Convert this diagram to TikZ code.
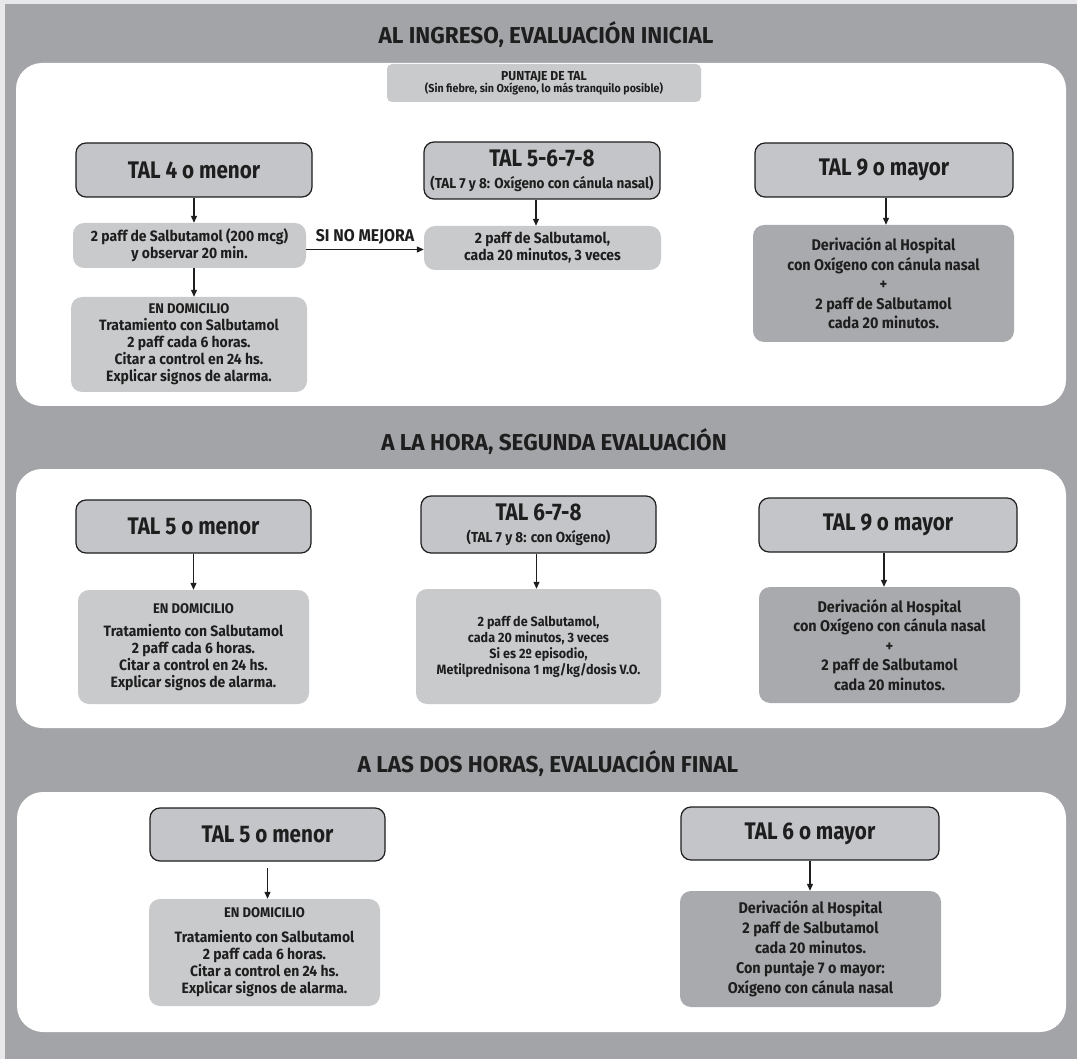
\documentclass[tikz,border=0pt]{standalone}
\usepackage{fontspec}
\setmainfont{Fira Sans}[FakeStretch=0.93]
\newfontfamily\headfont{Fira Sans}[FakeStretch=0.86]
\newfontfamily\titlefont{Fira Sans}[FakeStretch=0.98]
\usetikzlibrary{arrows.meta,positioning}
\definecolor{frame}{HTML}{E8E8EA}
\definecolor{back}{HTML}{A3A4A8}
\definecolor{ink}{HTML}{1E1E1E}
\definecolor{headfill}{HTML}{C4C5C8}
\definecolor{lightfill}{HTML}{C9CACC}
\definecolor{darkfill}{HTML}{A9AAAD}
\newcommand{\subhead}[1]{{\rmfamily\fontsize{14.5}{16}\selectfont #1}}
\newcommand{\domhead}[1]{{\fontsize{14}{15}\selectfont #1}}
\tikzset{
  panel/.style={fill=white, rounded corners=26pt},
  headbox/.style={draw=ink, fill=headfill, rounded corners=10pt, line width=1.2pt,
                  align=center, text=ink, inner sep=0pt,
                  font=\headfont\bfseries\fontsize{24}{26}\selectfont},
  lightbox/.style={fill=lightfill, rounded corners=11pt, align=center, text=ink,
                   inner sep=0pt, font=\bfseries\fontsize{15}{17}\selectfont},
  darkbox/.style={lightbox, fill=darkfill, font=\bfseries\fontsize{15.5}{19.5}\selectfont},
  ar/.style={-{Triangle[length=7pt,width=6pt]}, line width=1.2pt, draw=ink},
  ttl/.style={font=\titlefont\bfseries\fontsize{23}{25}\selectfont, text=ink, inner sep=0pt},
  lbl/.style={font=\bfseries\fontsize{17}{18}\selectfont, text=ink, inner sep=0pt},
  sz/.style 2 args={minimum width=#1pt, minimum height=#2pt}
}

\begin{document}
\begin{tikzpicture}[x=1pt,y=-1pt]
  \fill[frame] (0,0) rectangle (1077,1059);
  \fill[back] (5,4) rectangle (1077,1059);
  \useasboundingbox (0,0) rectangle (1077,1059);

  % tres etapas
  \fill[panel] (16,63) rectangle (1066,406);
  \fill[panel] (16,469) rectangle (1066,728);
  \fill[panel] (17,792) rectangle (1066,1032);

  \node[ttl] (ttl1) at (546,35) {AL INGRESO, EVALUACIÓN INICIAL};
  \node[ttl] (ttl2) at (554,442) {A LA HORA, SEGUNDA EVALUACIÓN};
  \node[ttl] (ttl3) at (548,764) {A LAS DOS HORAS, EVALUACIÓN FINAL};

  % al ingreso
  \node[lightbox, sz={314}{38}, rounded corners=5pt, font=\bfseries\fontsize{13}{13}\selectfont] (tal) at (544,83)
    {PUNTAJE DE TAL\\[-1pt]{\fontsize{11.5}{12}\selectfont (Sin fiebre, sin Oxígeno, lo más tranquilo posible)}};
  \node[headbox, sz={236}{54}] (h1a) at (194,170) {TAL 4 o menor};
  \node[headbox, sz={236}{57}] (h1b) at (542,170.5)
    {TAL 5-6-7-8\\[-4pt]\subhead{(TAL 7 y 8: Oxígeno con cánula nasal)}};
  \node[headbox, sz={258}{54}] (h1c) at (884,170) {TAL 9 o mayor};
  \node[lightbox, sz={233}{45}] (b1a) at (189.5,245.5)
    {2 paff de Salbutamol (200 mcg)\\y observar 20 min.};
  \node[lightbox, sz={236}{95}] (d1a) at (189,344.5)
    {\domhead{EN DOMICILIO}\\Tratamiento con Salbutamol\\2 paff cada 6 horas.\\Citar a control en 24 hs.\\Explicar signos de alarma.};
  \node[lightbox, sz={237}{44}] (b1b) at (542.5,248)
    {2 paff de Salbutamol,\\cada 20 minutos, 3 veces};
  \node[darkbox, sz={261}{117}] (d1c) at (883.5,283.5)
    {Derivación al Hospital\\con Oxígeno con cánula nasal\\+\\2 paff de Salbutamol\\cada 20 minutos.};

  \draw[ar] (h1a.south) -- (h1a.south |- b1a.north);
  \draw[ar] (b1a.south -| h1a.south) -- (d1a.north -| h1a.south);
  \draw[ar] ([xshift=-6pt]h1b.south) -- ([xshift=-6pt]h1b.south |- b1b.north);
  \draw[ar] ([xshift=2pt]h1c.south) -- ([xshift=2pt]h1c.south |- d1c.north);
  \draw[ar] ([yshift=-4pt]b1a.east) -- ([yshift=-4pt]b1a.east -| b1b.west)
    node[lbl, midway, above=5pt] (nomej) {SI NO MEJORA};

  % a la hora
  \node[headbox, sz={235}{53}] (h2a) at (193.5,526.5) {TAL 5 o menor};
  \node[headbox, sz={235}{57}] (h2b) at (538.5,524.5)
    {TAL 6-7-8\\[-4pt]\subhead{(TAL 7 y 8: con Oxígeno)}};
  \node[headbox, sz={258}{54}] (h2c) at (888,525) {TAL 9 o mayor};
  \node[lightbox, sz={231}{114}] (d2a) at (193.5,647)
    {\domhead{EN DOMICILIO}\\[6pt]Tratamiento con Salbutamol\\2 paff cada 6 horas.\\Citar a control en 24 hs.\\Explicar signos de alarma.};
  \node[lightbox, sz={245}{115}, font=\bfseries\fontsize{13.5}{16}\selectfont] (b2b) at (538.5,646.5)
    {2 paff de Salbutamol,\\cada 20 minutos, 3 veces\\Si es 2º episodio,\\Metilprednisona 1 mg/kg/dosis V.O.};
  \node[darkbox, sz={261}{116}] (d2c) at (889.5,645)
    {Derivación al Hospital\\con Oxígeno con cánula nasal\\+\\2 paff de Salbutamol\\cada 20 minutos.};

  \draw[ar] (h2a.south) -- (h2a.south |- d2a.north);
  \draw[ar] ([xshift=-2pt]h2b.south) -- ([xshift=-2pt]h2b.south |- b2b.north);
  \draw[ar] ([xshift=-4pt]h2c.south) -- ([xshift=-4pt]h2c.south |- d2c.north);

  % a las dos horas
  \node[headbox, sz={235}{53}] (h3a) at (267.5,834.5) {TAL 5 o menor};
  \node[headbox, sz={258}{53}] (h3b) at (810,833.5) {TAL 6 o mayor};
  \node[lightbox, sz={231}{107}] (d3a) at (264.5,952.5)
    {\domhead{EN DOMICILIO}\\[8pt]Tratamiento con Salbutamol\\2 paff cada 6 horas.\\Citar a control en 24 hs.\\Explicar signos de alarma.};
  \node[darkbox, sz={261}{116}, font=\bfseries\fontsize{15.5}{20}\selectfont] (d3b) at (810.5,949)
    {Derivación al Hospital\\2 paff de Salbutamol\\cada 20 minutos.\\Con puntaje 7 o mayor:\\Oxígeno con cánula nasal};

  \draw[ar, shorten <=6pt] (h3a.south) -- (h3a.south |- d3a.north);
  \draw[ar] (h3b.south) -- (h3b.south |- d3b.north);
\end{tikzpicture}
\end{document}
